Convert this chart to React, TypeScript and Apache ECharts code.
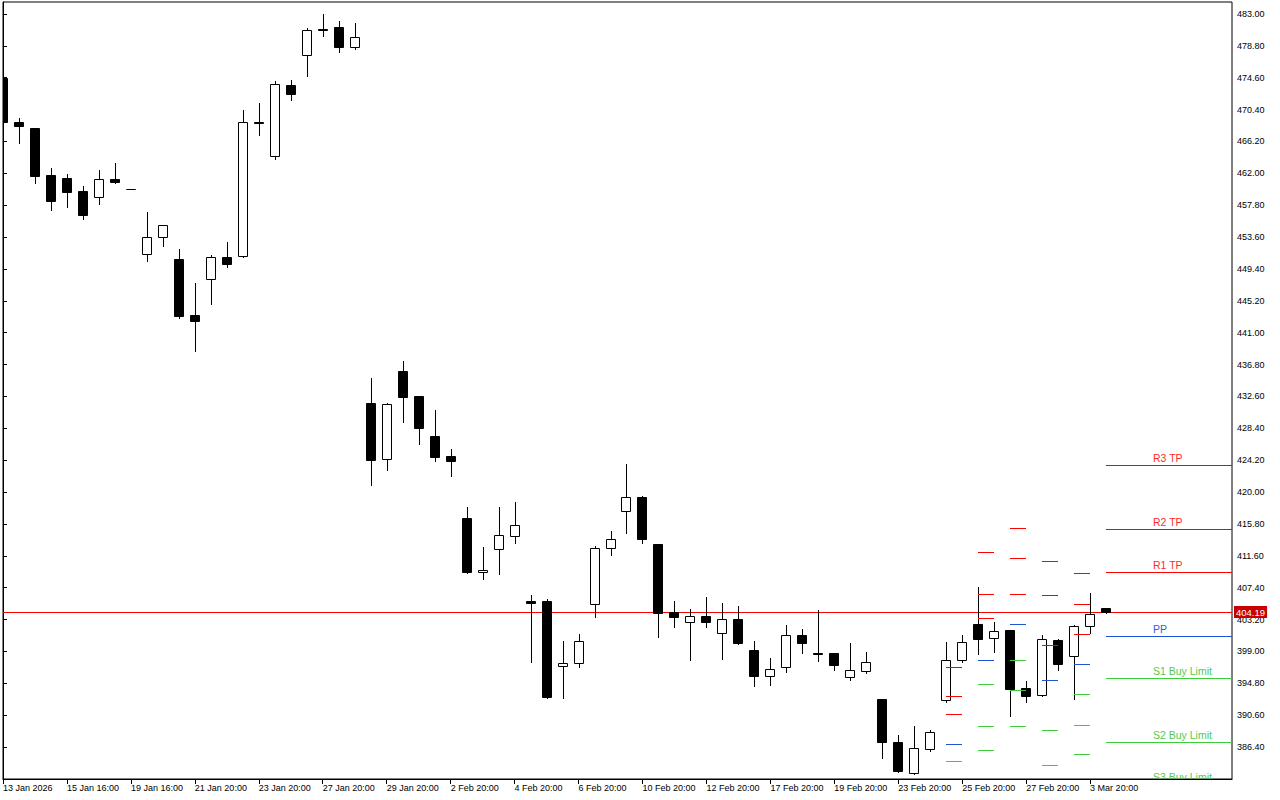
import React, { useEffect, useRef } from "react";
import * as echarts from "echarts";

// ---- Data ----
const categories = [
  "13 Jan 16:00", "13 Jan 20:00", "14 Jan 16:00", "14 Jan 20:00", "15 Jan 16:00", "15 Jan 20:00",
  "16 Jan 16:00", "16 Jan 20:00", "19 Jan 16:00", "20 Jan 16:00", "20 Jan 20:00", "21 Jan 16:00",
  "21 Jan 20:00", "22 Jan 16:00", "22 Jan 20:00", "23 Jan 16:00", "23 Jan 20:00", "26 Jan 16:00",
  "26 Jan 20:00", "27 Jan 16:00", "27 Jan 20:00", "28 Jan 16:00", "28 Jan 20:00", "29 Jan 16:00",
  "29 Jan 20:00", "30 Jan 16:00", "30 Jan 20:00", "2 Feb 16:00", "2 Feb 20:00", "3 Feb 16:00",
  "3 Feb 20:00", "4 Feb 16:00", "4 Feb 20:00", "5 Feb 16:00", "5 Feb 20:00", "6 Feb 16:00",
  "6 Feb 20:00", "9 Feb 16:00", "9 Feb 20:00", "10 Feb 16:00", "10 Feb 20:00", "11 Feb 16:00",
  "11 Feb 20:00", "12 Feb 16:00", "12 Feb 20:00", "13 Feb 16:00", "13 Feb 20:00", "17 Feb 16:00",
  "17 Feb 20:00", "18 Feb 16:00", "18 Feb 20:00", "19 Feb 16:00", "19 Feb 20:00", "20 Feb 16:00",
  "20 Feb 20:00", "23 Feb 16:00", "23 Feb 20:00", "24 Feb 16:00", "24 Feb 20:00", "25 Feb 16:00",
  "25 Feb 20:00", "26 Feb 16:00", "26 Feb 20:00", "27 Feb 16:00", "27 Feb 20:00", "2 Mar 16:00",
  "2 Mar 20:00", "3 Mar 16:00", "3 Mar 20:00", "4 Mar 16:00",
];

const openPrices = [
  474.53, 468.77, 467.98, 461.78, 461.35, 459.67, 458.84, 461.25, 459.9, 451.33,
  453.57, 450.71, 443.33, 448.04, 450.94, 451.07, 468.75, 464.25, 473.6, 477.56,
  481.0, 481.25, 478.69, 431.73, 424.31, 435.91, 432.66, 427.39, 424.75, 416.58,
  409.42, 412.45, 414.17, 405.6, 405.6, 397.08, 397.43, 405.21, 412.59, 417.46,
  419.39, 413.15, 404.15, 402.83, 403.66, 401.39, 403.23, 399.14, 395.8, 396.98,
  401.16, 398.8, 398.79, 395.59, 396.46, 392.73, 387.02, 382.93, 386.1, 392.56,
  397.83, 402.61, 400.73, 401.78, 394.14, 393.3, 400.46, 398.35, 402.31, 404.68,
];
const closePrices = [
  468.81, 468.28, 461.69, 458.4, 459.58, 456.55, 461.22, 460.9, 459.9, 453.57,
  455.15, 443.24, 442.58, 450.94, 450.1, 468.73, 468.6, 473.74, 472.5, 480.85,
  480.85, 478.69, 479.93, 424.26, 431.56, 432.57, 428.48, 424.66, 424.13, 409.5,
  409.73, 414.3, 415.62, 405.45, 393.03, 397.43, 400.33, 412.59, 413.77, 419.31,
  413.85, 404.1, 403.57, 403.66, 402.83, 403.23, 400.15, 395.8, 396.64, 401.12,
  400.07, 398.7, 397.25, 396.51, 397.56, 387.02, 383.28, 386.23, 388.34, 397.83,
  400.2, 400.67, 401.65, 394.09, 393.16, 400.59, 397.38, 402.31, 403.89, 404.19,
];
const lowPrices = [
  468.7, 466.04, 460.77, 457.17, 457.6, 456.02, 458.0, 460.77, 459.9, 450.49,
  452.47, 442.98, 438.63, 444.82, 449.7, 451.0, 467.09, 463.93, 471.71, 474.87,
  480.14, 478.03, 478.43, 420.97, 422.94, 429.27, 426.37, 424.13, 422.15, 409.37,
  408.58, 409.24, 413.32, 397.64, 392.9, 392.9, 396.98, 403.57, 411.74, 414.64,
  413.32, 400.94, 402.25, 397.87, 402.25, 398.04, 400.02, 394.44, 394.61, 396.32,
  398.83, 397.73, 396.55, 395.27, 396.19, 384.99, 383.07, 382.9, 385.91, 392.37,
  397.6, 398.7, 398.96, 390.53, 392.37, 393.16, 396.59, 392.69, 401.39, 404.1,
];
const highPrices = [
  474.6, 469.29, 468.0, 462.7, 461.91, 460.33, 462.44, 463.36, 459.9, 456.91,
  455.2, 452.03, 447.55, 451.2, 452.95, 470.35, 471.27, 474.17, 474.3, 481.12,
  483.0, 482.08, 481.81, 434.99, 431.73, 437.27, 432.7, 430.81, 425.67, 418.03,
  412.76, 418.03, 418.69, 406.39, 405.86, 400.37, 401.29, 412.89, 414.87, 423.7,
  419.5, 413.15, 405.64, 404.55, 406.17, 405.38, 404.98, 400.37, 398.17, 402.48,
  401.95, 404.45, 398.8, 400.11, 398.92, 392.8, 387.98, 389.17, 388.64, 400.24,
  401.16, 407.53, 402.87, 401.8, 395.06, 401.16, 400.6, 402.44, 406.7, 404.7,
];

const xTickLabels = [
  "13 Jan 2026", "15 Jan 16:00", "19 Jan 16:00", "21 Jan 20:00", "23 Jan 20:00", "27 Jan 20:00",
  "29 Jan 20:00", "2 Feb 20:00", "4 Feb 20:00", "6 Feb 20:00", "10 Feb 20:00", "12 Feb 20:00",
  "17 Feb 20:00", "19 Feb 20:00", "23 Feb 20:00", "25 Feb 20:00", "27 Feb 20:00", "3 Mar 20:00",
];

// pivot levels per day (day's first bar index)
const pivotStart = [59, 61, 63, 65, 67, 69];
const r3Levels = [396.9, 412.06, 415.22, 410.82, 409.29, 423.56];
const r2Levels = [393.08, 406.52, 411.27, 406.39, 405.21, 415.09];
const r1Levels = [390.71, 403.36, 406.52, 399.75, 401.25, 409.42];
const ppLevels = [386.76, 397.83, 402.57, 395.19, 397.3, 400.99];
const s1Levels = [384.52, 394.66, 397.83, 388.6, 393.35, 395.45];
const s2Levels = [null, 389.13, 393.87, 383.99, 389.26, 387.02];
const s3Levels = [null, 385.97, 389.13, null, 385.44, 381.52];
const levelNames = ["R3 TP", "R2 TP", "R1 TP", "PP", "S1 Buy Limit", "S2 Buy Limit", "S3 Buy Limit"];

const bidPrice = 404.19;

// ---- Axis config ----
const Y_MIN = 382.2;
const Y_MAX = 484.58;
const Y_STEP = 4.2;
const X_MAX = 76.875;
const X_TICK_STEP = 4;

const RED = "#ff0000";
const BLUE = "#1f52d6";
const GREEN = "#3ccd3c";
const TEXT_COLORS = ["#ff2a2a", "#ff2a2a", "#ff2a2a", "#2f5fd8", "#4fcc4f", "#4fcc4f", "#4fcc4f"];
const FONT = "'Liberation Sans', Arial, sans-serif";

export default function App() {
  const ref = useRef<HTMLDivElement>(null);

  useEffect(() => {
    if (!ref.current) return;
    const chart = echarts.init(ref.current, null, { renderer: "svg" });

    const candleData = categories.map((_, i) => [i, openPrices[i], closePrices[i], lowPrices[i], highPrices[i]]);

    const levels = [r3Levels, r2Levels, r1Levels, ppLevels, s1Levels, s2Levels, s3Levels];
    const pivotData: number[][] = [];
    pivotStart.forEach((start, d) => {
      const isFinal = d === pivotStart.length - 1;
      const end = isFinal ? X_MAX : start + 1;
      levels.forEach((arr, lvl) => {
        const v = arr[d];
        if (v == null) return;
        pivotData.push([start, end, v, lvl, isFinal ? 1 : 0]);
      });
    });

    const option: any = {
      animation: false,
      backgroundColor: "#ffffff",
      textStyle: { fontFamily: FONT },
      grid: {
        left: 2,
        top: 2,
        right: 48,
        bottom: 21,
        show: true,
        borderColor: "#000",
        borderWidth: 1,
        backgroundColor: "#fff",
      },
      xAxis: {
        type: "value",
        min: 0,
        max: X_MAX,
        axisLine: { show: true, lineStyle: { color: "#000", width: 1 } },
        axisTick: {
          show: true,
          length: 5,
          lineStyle: { color: "#000", width: 1 },
          customValues: xTickLabels.map((_, k) => k * X_TICK_STEP),
        },
        axisLabel: {
          show: true,
          customValues: xTickLabels.map((_, k) => k * X_TICK_STEP),
          formatter: (v: number) => xTickLabels[Math.round(v / X_TICK_STEP)] ?? "",
          align: "left",
          margin: 4,
          color: "#000",
          fontSize: 9,
          fontFamily: FONT,
        },
        splitLine: { show: false },
      },
      yAxis: {
        type: "value",
        position: "right",
        min: Y_MIN,
        max: Y_MAX,
        interval: Y_STEP,
        scale: true,
        axisLine: { show: true, lineStyle: { color: "#000", width: 1 } },
        axisTick: { show: true, length: 4, lineStyle: { color: "#000", width: 1 } },
        axisLabel: {
          show: true,
          showMinLabel: false,
          showMaxLabel: false,
          formatter: (v: number) => v.toFixed(2),
          margin: 5,
          color: "#000",
          fontSize: 9,
          fontFamily: FONT,
        },
        splitLine: { show: false },
      },
      series: [
        {
          type: "line",
          name: "Bid",
          data: [[0, bidPrice]],
          symbol: "none",
          lineStyle: { opacity: 0 },
          z: 1,
          silent: true,
          markLine: {
            silent: true,
            z: 1,
            symbol: ["none", "none"],
            lineStyle: { color: RED, width: 1, type: "solid" },
            label: {
              show: true,
              position: "end",
              formatter: () => bidPrice.toFixed(2),
              color: "#fff",
              backgroundColor: "#c80000",
              padding: [1, 2, 1, 2],
              fontSize: 9.5,
              fontFamily: FONT,
              distance: 2,
            },
            emphasis: { disabled: true },
            data: [{ yAxis: bidPrice }],
          },
        },
        {
          type: "custom",
          name: "Price",
          clip: true,
          z: 2,
          data: candleData,
          encode: { x: 0, y: [1, 2, 3, 4] },
          renderItem: (params: any, api: any) => {
            const x = api.value(0);
            const o = api.value(1);
            const c = api.value(2);
            const l = api.value(3);
            const h = api.value(4);
            const pO = api.coord([x, o]);
            const pC = api.coord([x, c]);
            const pL = api.coord([x, l]);
            const pH = api.coord([x, h]);
            const cx = Math.round(pO[0]) + 0.5;
            const top = Math.round(Math.min(pO[1], pC[1])) + 0.5;
            const bot = Math.round(Math.max(pO[1], pC[1])) + 0.5;
            const bull = c >= o;
            return {
              type: "group",
              children: [
                {
                  type: "line",
                  shape: { x1: cx, y1: Math.round(pH[1]), x2: cx, y2: Math.round(pL[1]) + 1 },
                  style: { stroke: "#000", lineWidth: 1 },
                },
                {
                  type: "rect",
                  shape: { x: cx - 5, y: top, width: 9, height: Math.max(bot - top, 0) },
                  style: { fill: bull ? "#fff" : "#000", stroke: "#000", lineWidth: 1 },
                },
              ],
            };
          },
        },
        {
          type: "custom",
          name: "Pivots",
          clip: true,
          z: 3,
          data: pivotData,
          encode: { x: [0, 1], y: 2 },
          renderItem: (params: any, api: any) => {
            const x0 = api.value(0);
            const x1 = api.value(1);
            const price = api.value(2);
            const lvl = api.value(3);
            const fin = api.value(4);
            const a = api.coord([x0, price]);
            const b = api.coord([x1, price]);
            const y = Math.floor(a[1]) + 0.5;
            const color = lvl < 3 ? RED : lvl === 3 ? BLUE : GREEN;
            const children: any[] = [
              {
                type: "line",
                shape: { x1: Math.round(a[0]), y1: y, x2: Math.round(b[0]), y2: y },
                style: { stroke: color, lineWidth: 1 },
              },
            ];
            if (fin) {
              children.push({
                type: "text",
                x: Math.round(a[0]) + 47,
                y: y - 8,
                style: {
                  text: levelNames[lvl],
                  fill: TEXT_COLORS[lvl],
                  fontSize: 10.5,
                  fontFamily: FONT,
                  align: "left",
                  verticalAlign: "middle",
                },
              });
            }
            return { type: "group", children };
          },
        },
      ],
    };

    chart.setOption(option);
    return () => chart.dispose();
  }, []);

  return (
    <div
      ref={ref}
      style={{ position: "fixed", left: 0, top: 0, width: 1280, height: 800, background: "#fff" }}
    />
  );
}
